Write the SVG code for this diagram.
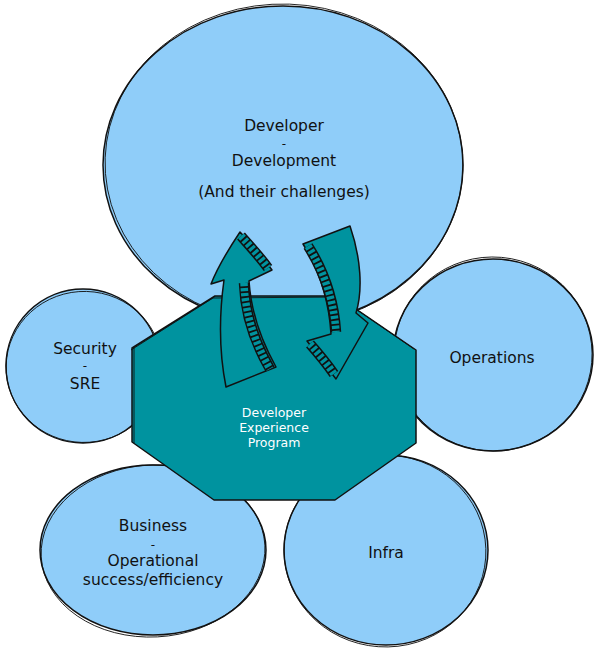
<svg xmlns="http://www.w3.org/2000/svg" width="600" height="653" viewBox="0 0 600 653">
  <style>
    .bubble { fill: #8fcdf9; stroke: none; }
    .ink { fill: none; stroke: #111; stroke-width: 1.5; }
    .ink2 { fill: none; stroke: #111; stroke-width: 0.9; }
    .lbl { font-family: "DejaVu Sans", "Liberation Sans", sans-serif; font-size: 15.5px; fill: #111; text-anchor: middle; }
    .dash { font-family: "DejaVu Sans", "Liberation Sans", sans-serif; font-size: 12px; fill: #111; text-anchor: middle; }
    .wlbl { font-family: "DejaVu Sans", "Liberation Sans", sans-serif; font-size: 12.5px; fill: #fff; text-anchor: middle; }
    .oct { fill: #00939f; stroke: #111; stroke-width: 1.5; stroke-linejoin: round; }
    .arrow { fill: #00939f; stroke: #111; stroke-width: 1.5; stroke-linejoin: round; }
    .bandOut { fill: none; stroke: #111; stroke-width: 10.5; stroke-linecap: butt; }
    .bandIn { fill: none; stroke: #00939f; stroke-width: 7.5; stroke-dasharray: 3.2 1.8; stroke-linecap: butt; }
  </style>
  <rect width="600" height="653" fill="#ffffff"/>

  <g id="node-developer">
    <ellipse class="bubble" cx="283" cy="165" rx="180" ry="159"/>
    <ellipse class="ink" cx="283" cy="165" rx="180" ry="159"/>
    <ellipse class="ink2" cx="284" cy="164" rx="179" ry="160" transform="rotate(2 283 165)"/>
    <text class="lbl" x="284" y="131">Developer</text>
    <text class="dash" x="284" y="148">-</text>
    <text class="lbl" x="284" y="166">Development</text>
    <text class="lbl" x="284" y="197">(And their challenges)</text>
  </g>

  <g id="node-security">
    <ellipse class="bubble" cx="83" cy="366" rx="77" ry="77"/>
    <ellipse class="ink" cx="83" cy="366" rx="77" ry="77"/>
    <ellipse class="ink2" cx="84" cy="367" rx="78" ry="75.5" transform="rotate(-4 83 366)"/>
    <text class="lbl" x="85" y="354">Security</text>
    <text class="dash" x="85" y="369.5">-</text>
    <text class="lbl" x="85" y="389">SRE</text>
  </g>

  <g id="node-operations">
    <ellipse class="bubble" cx="493" cy="355" rx="100" ry="96"/>
    <ellipse class="ink" cx="493" cy="355" rx="100" ry="96"/>
    <ellipse class="ink2" cx="493" cy="354" rx="99" ry="97" transform="rotate(5 493 355)"/>
    <text class="lbl" x="492" y="363">Operations</text>
  </g>

  <g id="node-business">
    <ellipse class="bubble" cx="153" cy="550" rx="113" ry="85"/>
    <ellipse class="ink" cx="153" cy="550" rx="113" ry="85"/>
    <ellipse class="ink2" cx="153" cy="551" rx="112" ry="86" transform="rotate(-3 153 550)"/>
    <text class="lbl" x="153" y="531">Business</text>
    <text class="dash" x="153" y="548.5">-</text>
    <text class="lbl" x="153" y="566">Operational</text>
    <text class="lbl" x="153" y="584.5">success/efficiency</text>
  </g>

  <g id="node-infra">
    <ellipse class="bubble" cx="386" cy="550" rx="102" ry="95"/>
    <ellipse class="ink" cx="386" cy="550" rx="102" ry="95"/>
    <ellipse class="ink2" cx="385" cy="551" rx="101" ry="96" transform="rotate(4 386 550)"/>
    <text class="lbl" x="386" y="558">Infra</text>
  </g>

  <g id="node-dx-program">
    <polygon class="oct" points="215,296 337,296 416,350 416,443 335,500 214,500 132,442 132,348"/>
    <polyline class="ink2" points="131,350 213,298 338,297 414,349"/>
    <line class="ink2" x1="134" y1="347" x2="134" y2="443"/>
    <text class="wlbl" x="274" y="417">Developer</text>
    <text class="wlbl" x="274" y="432">Experience</text>
    <text class="wlbl" x="274" y="447">Program</text>
  </g>

  <g id="connectors">
    <g id="arrow-up">
      <path class="arrow" d="M240,232 C232,244 218,266 211,284 L224,280 C219,316 219,352 226,387 L276,367 C262,342 251,312 249,281 L272,270 C262,256 251,243 240,232 Z"/>
      <path class="bandOut" d="M244,283 C245,314 255,343 270,369"/>
      <path class="bandIn" d="M244,283 C245,314 255,343 270,369"/>
      <path class="bandOut" d="M241,236 C250,246 260,257 268,268"/>
      <path class="bandIn" d="M241,236 C250,246 260,257 268,268"/>
    </g>
    <g id="arrow-down">
      <path class="arrow" d="M303,244 L350,226 C361,258 363,290 356,313 L368,323 L336,379 L307,341 L331,334 C329,300 319,270 303,244 Z"/>
      <path class="bandOut" d="M308,246 C324,271 334,301 336,332"/>
      <path class="bandIn" d="M308,246 C324,271 334,301 336,332"/>
      <path class="bandOut" d="M310,344 C318,353 327,364 334,374"/>
      <path class="bandIn" d="M310,344 C318,353 327,364 334,374"/>
    </g>
  </g>
</svg>
